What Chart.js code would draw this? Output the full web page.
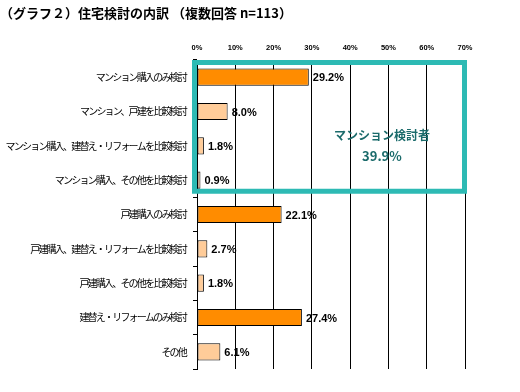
<!DOCTYPE html>
<html><head><meta charset="utf-8">
<script src="https://cdn.jsdelivr.net/npm/chart.js@4.4.1/dist/chart.umd.min.js"></script>
<style>html,body{margin:0;padding:0;background:#fff}#wrap{width:520px;height:392px;position:relative}</style>
</head><body><div id="wrap"><canvas id="c" width="520" height="392"></canvas></div>
<script>
const titleText = '（グラフ２）住宅検討の内訳 （複数回答 n=113）';
const categories = [
  'マンション購入のみ検討',
  'マンション、戸建を比較検討',
  'マンション購入、建替え・リフォームを比較検討',
  'マンション購入、その他を比較検討',
  '戸建購入のみ検討',
  '戸建購入、建替え・リフォームを比較検討',
  '戸建購入、その他を比較検討',
  '建替え・リフォームのみ検討',
  'その他'
];
const values = [29.2, 8.0, 1.8, 0.9, 22.1, 2.7, 1.8, 27.4, 6.1];
const barKinds = ['only', 'compare', 'compare', 'compare', 'only', 'compare', 'compare', 'only', 'compare'];
const xTickValues = [0, 10, 20, 30, 40, 50, 60, 70];
const annotationLines = ['マンション検討者', '39.9%'];
const annotationLastIndex = 3;

const kindColors = { only: '#FF8C00', compare: '#FFCC99' };
const TEAL = '#2DBAB4';
const TEAL_TEXT = '#1B6B6B';

const overlay = {
  id: 'overlay',
  beforeDraw(chart) {
    const s = chart.scales.y;
    if (s && !s._lsPatched) {
      const orig = s.drawLabels;
      s.drawLabels = function (ca) {
        const ctx = this.ctx;
        const prev = ctx.letterSpacing;
        ctx.letterSpacing = '-1.8px';
        orig.call(this, ca);
        ctx.letterSpacing = prev || '0px';
      };
      s._lsPatched = true;
    }
  },
  afterDatasetsDraw(chart) {
    const ctx = chart.ctx;
    const meta = chart.getDatasetMeta(0);
    const xs = chart.scales.x;
    ctx.save();
    // value labels
    ctx.font = 'bold 11px "Liberation Sans", Arial, sans-serif';
    ctx.fillStyle = '#000';
    ctx.textAlign = 'left';
    ctx.textBaseline = 'middle';
    meta.data.forEach((bar, i) => {
      ctx.fillText(values[i].toFixed(1) + '%', bar.x + 4, bar.y + 1);
    });
    // teal frame
    const last = meta.data[annotationLastIndex];
    const x0 = xs.getPixelForValue(0) - 2.5;
    const x1 = xs.getPixelForValue(70) - 0.5;
    const y0 = chart.chartArea.top + 2.5;
    const y1 = last.y + last.height / 2 + 2.5;
    ctx.strokeStyle = TEAL;
    ctx.lineWidth = 5;
    ctx.strokeRect(x0, y0, x1 - x0, y1 - y0);
    // annotation
    const cx = xs.getPixelForValue(48.3);
    const mid = (y0 + y1) / 2;
    ctx.fillStyle = TEAL_TEXT;
    ctx.textAlign = 'center';
    ctx.font = 'bold 12px "Noto Sans CJK JP", sans-serif';
    ctx.fillText(annotationLines[0], cx, mid + 9);
    ctx.font = 'bold 13px "Noto Sans CJK JP", sans-serif';
    ctx.fillText(annotationLines[1], cx, mid + 29);
    ctx.restore();
  }
};

new Chart(document.getElementById('c'), {
  type: 'bar',
  data: {
    labels: categories,
    datasets: [{
      data: values,
      backgroundColor: barKinds.map(k => kindColors[k]),
      borderColor: '#000',
      borderWidth: 1,
      borderSkipped: false,
      categoryPercentage: 0.5,
      barPercentage: 1
    }]
  },
  options: {
    indexAxis: 'y',
    responsive: false,
    animation: false,
    devicePixelRatio: 1,
    layout: { padding: { left: 0, right: 55, top: 0, bottom: 23 } },
    plugins: {
      legend: { display: false },
      tooltip: { enabled: false },
      title: {
        display: true,
        text: titleText,
        align: 'start',
        color: '#000',
        font: { family: '"Noto Sans CJK JP", sans-serif', size: 13, weight: 'bold', lineHeight: 1.2 },
        padding: { top: 5, bottom: 5 }
      }
    },
    scales: {
      x: {
        position: 'top',
        min: 0,
        max: 70,
        afterBuildTicks(scale) { scale.ticks = xTickValues.map(v => ({ value: v })); },
        afterFit(scale) { scale.height = 60 - 25.6; },
        ticks: {
          callback: v => v + '%',
          color: '#000',
          padding: 8,
          maxRotation: 0,
          font: { family: '"Liberation Sans", Arial, sans-serif', size: 7.5, weight: 'bold', lineHeight: 1.2 }
        },
        grid: { color: '#000', lineWidth: 1, drawTicks: false },
        border: { display: false }
      },
      y: {
        afterFit(scale) { scale.width = 197; },
        ticks: {
          color: '#000',
          padding: 7,
          autoSkip: false,
          font: { family: '"Noto Sans CJK JP", sans-serif', size: 10 }
        },
        grid: { drawOnChartArea: false, drawTicks: true, tickLength: 4, color: '#000' },
        border: { display: true, color: '#000', width: 1 }
      }
    }
  },
  plugins: [overlay]
});
</script>
</body></html>
